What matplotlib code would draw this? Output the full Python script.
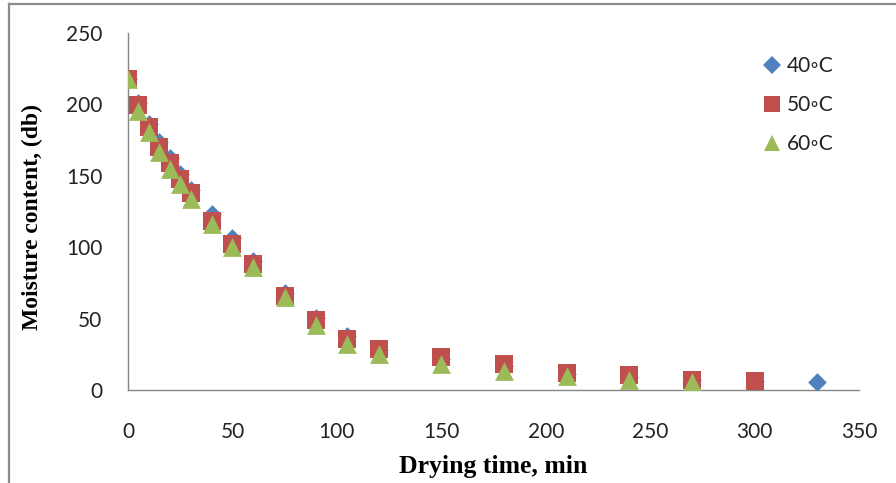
import matplotlib.pyplot as plt
from matplotlib.lines import Line2D

# drying times (min) and moisture content (db) per temperature
time_40 = [0, 5, 10, 15, 20, 25, 30, 40, 50, 60, 75, 90, 105, 120, 150, 180, 210, 240, 270, 300, 330]
mc_40 = [218, 201, 186, 174, 162.5, 151, 140, 123, 106.5, 90, 68, 50.5, 38, 28, 22, 17, 11, 9, 7, 6, 5.8]

time_50 = [0, 5, 10, 15, 20, 25, 30, 40, 50, 60, 75, 90, 105, 120, 150, 180, 210, 240, 270, 300]
mc_50 = [218, 199.5, 184, 170, 158.7, 148, 138, 118, 102.5, 88, 65.6, 48.7, 36, 29, 23.3, 18.2, 12, 10.3, 7.2, 6.5]

time_60 = [0, 5, 10, 15, 20, 25, 30, 40, 50, 60, 75, 90, 105, 120, 150, 180, 210, 240, 270]
mc_60 = [218, 195.5, 181, 167, 155, 144, 134, 116, 100, 86, 65, 45.5, 32, 25, 18.4, 13, 9.6, 6.8, 5.8]

labels = ["40\u25e6C", "50\u25e6C", "60\u25e6C"]
colors = ["#4F81BD", "#C0504D", "#9BBB59"]

tick_font = ["Lato", "DejaVu Sans"]

fig = plt.figure(figsize=(8.96, 4.83), dpi=100)
ax = fig.add_axes([128 / 896, 1 - 390 / 483, (859 - 128) / 896, (390 - 33) / 483])

ax.scatter(time_40, mc_40, marker="D", s=9.5 ** 2, color=colors[0], linewidths=0, label=labels[0], zorder=3)
ax.scatter(time_50, mc_50, marker="s", s=13.5 ** 2, color=colors[1], linewidths=0, label=labels[1], zorder=4)
ax.scatter(time_60, mc_60, marker="^", s=13.5 ** 2, color=colors[2], linewidths=0, label=labels[2], zorder=5)

ax.set_xlim(0, 350)
ax.set_ylim(0, 250)
ax.set_xticks(range(0, 351, 50))
ax.set_yticks(range(0, 251, 50))

for side in ["top", "right"]:
    ax.spines[side].set_visible(False)
for side in ["left", "bottom"]:
    ax.spines[side].set_color("#868686")
    ax.spines[side].set_linewidth(1.0)

ax.tick_params(axis="y", length=0, pad=18.5)
ax.tick_params(axis="x", length=0, pad=23)
for lbl in ax.get_xticklabels() + ax.get_yticklabels():
    lbl.set_family(tick_font)
    lbl.set_fontsize(15)
    lbl.set_color("#222222")

fig.text(493 / 896, 1 - 467 / 483, "Drying time, min", ha="center", va="center",
         family="Liberation Serif", fontweight="bold", fontsize=18.5)
fig.text(32 / 896, 1 - 217 / 483, "Moisture content, (db)", ha="center", va="center",
         rotation=90, family="Liberation Serif", fontweight="bold", fontsize=17)

handles = [
    Line2D([], [], linestyle="none", marker="D", markersize=9.5, color=colors[0], markeredgewidth=0),
    Line2D([], [], linestyle="none", marker="s", markersize=11.5, color=colors[1], markeredgewidth=0),
    Line2D([], [], linestyle="none", marker="^", markersize=12, color=colors[2], markeredgewidth=0),
]
leg = fig.legend(handles, labels, loc="upper left", bbox_to_anchor=(762 / 896, 1 - 56.5 / 483),
                 bbox_transform=fig.transFigure, frameon=False, handlelength=1.0,
                 handletextpad=0.2, borderpad=0, borderaxespad=0, labelspacing=0.91,
                 prop={"family": tick_font, "size": 15})
for t in leg.get_texts():
    t.set_color("#222222")

# chart frame (gray border, left and top visible)
fig.add_artist(Line2D([9 / 896, 9 / 896], [0, 1 - 4 / 483], transform=fig.transFigure,
                      color="#8c8c8c", linewidth=1.6))
fig.add_artist(Line2D([9 / 896, 1], [1 - 4 / 483, 1 - 4 / 483], transform=fig.transFigure,
                      color="#8c8c8c", linewidth=1.6))

fig.savefig("out.png", dpi=100)
